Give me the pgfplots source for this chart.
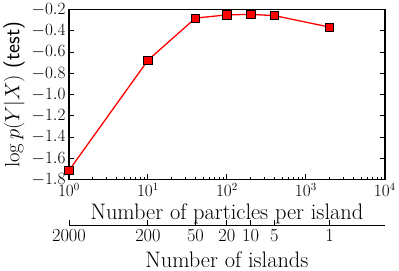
\documentclass[border=0pt]{standalone}
\usepackage{pgfplots}
\pgfplotsset{compat=1.18}
\begin{document}
\begin{tikzpicture}
\begin{axis}[name=main, at={(0,0)}, anchor=south west,
 scale only axis, width=316bp, height=170bp,
 xmode=log, xmin=1, xmax=10000, ymin=-1.8, ymax=-0.2,
 ytick={-1.8,-1.6,-1.4,-1.2,-1.0,-0.8,-0.6,-0.4,-0.2},
 yticklabel style={/pgf/number format/.cd, fixed, fixed zerofill, precision=1},
 xtick={1,10,100,1000,10000},
 xtick pos=left, ytick pos=both,
 tick align=inside,
 major tick length=5bp, minor tick length=2.5bp,
 axis line style={line width=1.4bp},
 tick style={line width=0.9bp, black},
 ticklabel style={font=\fontsize{16}{16}\selectfont},
 xlabel={Number of particles per island},
 xlabel style={font=\fontsize{22.5}{22.5}\selectfont, at={(rel axis cs:0.5,0)}, anchor=center, yshift=-34bp},
 ylabel={$\log p(Y|X)$ \textsf{(test)}},
 ylabel style={font=\fontsize{21.5}{21.5}\selectfont, at={(rel axis cs:0,0.5)}, anchor=center, yshift=55bp},
]
\addplot[red, line width=1.3bp, mark=square*, mark size=4.2bp, mark options={fill=red, draw=black, line width=0.7bp}] coordinates {
(1,-1.715) (10,-0.677) (40,-0.28) (100,-0.25) (200,-0.245) (400,-0.257) (2000,-0.365)
};
\end{axis}
\begin{axis}[at={(0,-46bp)}, anchor=south west,
 scale only axis, width=316bp, height=1bp,
 xmode=log, xmin=1, xmax=10000, ymin=0, ymax=1,
 axis x line*=bottom, hide y axis,
 x axis line style={-, line width=1.4bp},
 xtick={1,10,40,100,200,400,2000},
 xticklabels={2000,200,50,20,10,5,1},
 tick align=inside, xtick pos=left,
 major tick length=5bp, minor tick length=2.5bp,
 tick style={line width=0.9bp, black},
 ticklabel style={font=\fontsize{18.5}{18.5}\selectfont},
 xlabel={Number of islands},
 xlabel style={font=\fontsize{22.5}{22.5}\selectfont, at={(rel axis cs:0.5,0)}, anchor=center, yshift=-34bp},
]
\end{axis}
\end{tikzpicture}
\end{document}
